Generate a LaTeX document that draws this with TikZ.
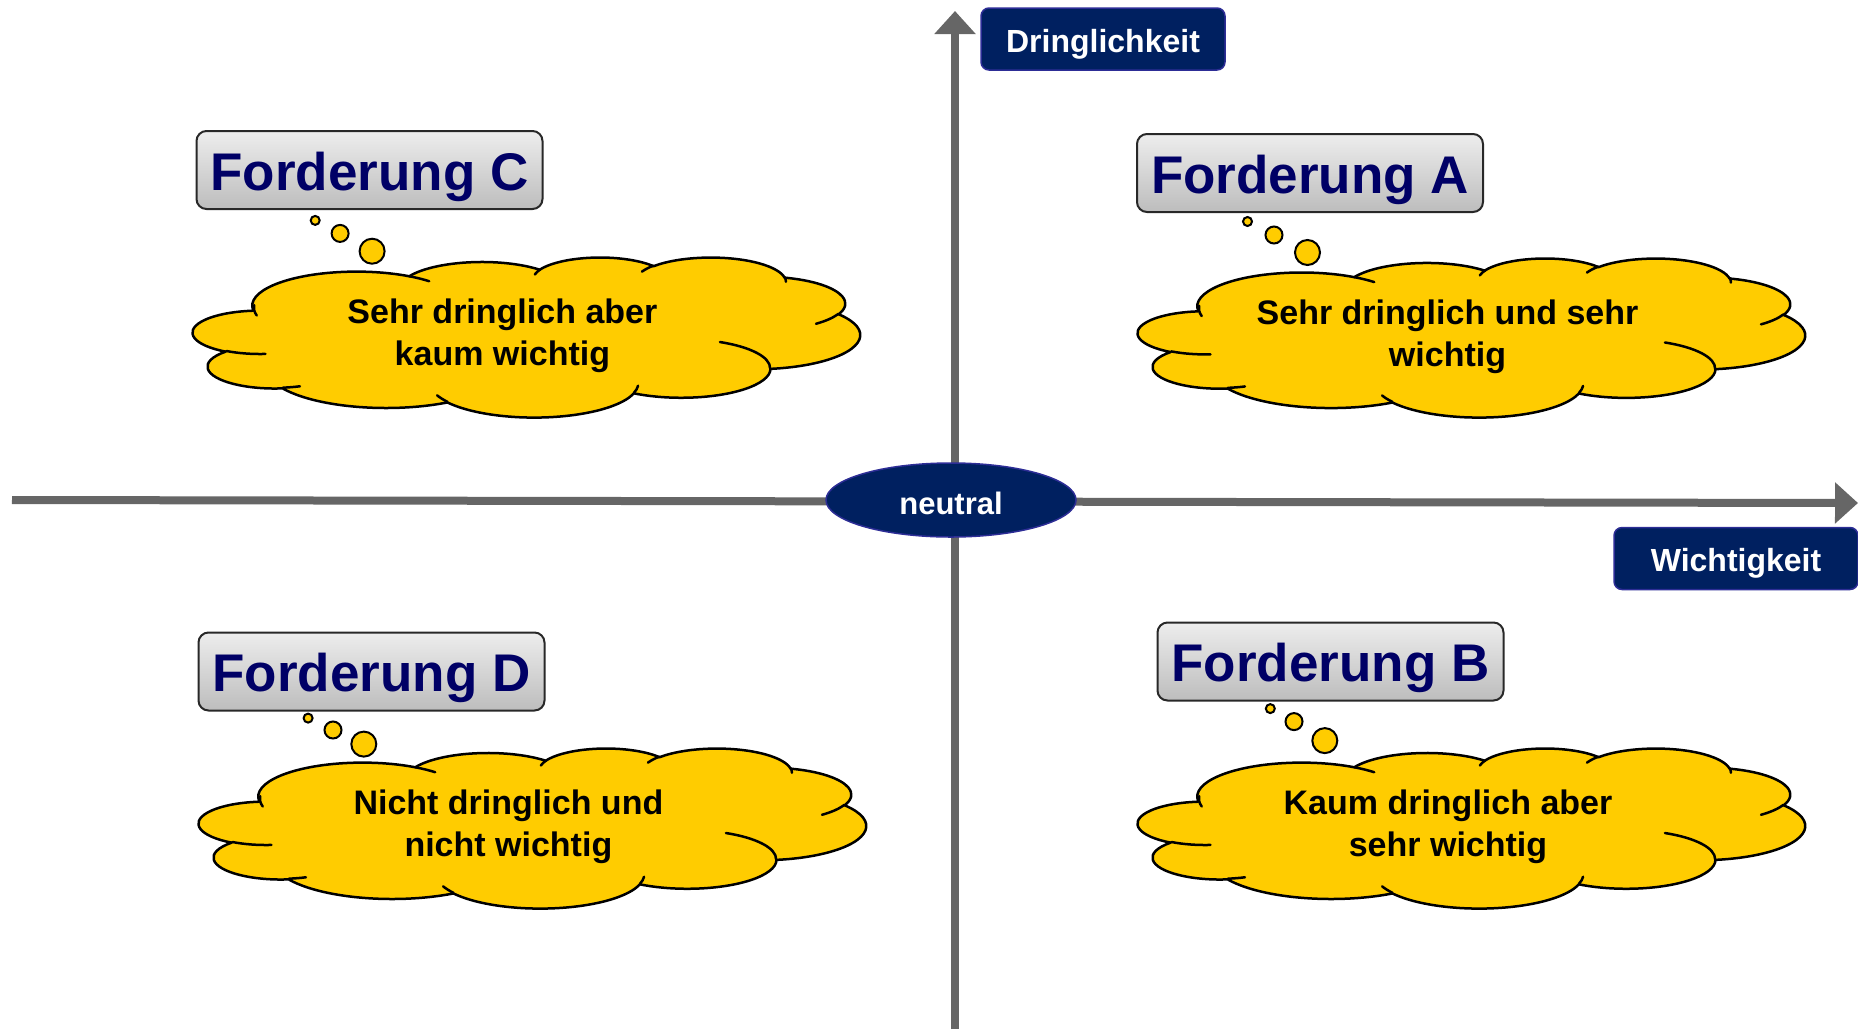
\documentclass[tikz,border=0pt]{standalone}
\usepackage{fontspec}
\setmainfont{Liberation Sans}
\usetikzlibrary{arrows.meta,shapes.geometric}
\definecolor{navy}{RGB}{0,32,96}
\definecolor{navyedge}{RGB}{45,45,150}
\definecolor{ftext}{RGB}{0,0,102}
\definecolor{axisgray}{RGB}{102,102,102}
\definecolor{cloudfill}{RGB}{255,204,0}
\definecolor{boxedge}{RGB}{40,40,40}
\pgfmathdeclarefunction{vang}{3}{\pgfmathparse{atan2(#1*sin(#3),#2*cos(#3))}}
\pgfmathdeclarefunction{vdel}{4}{\pgfmathparse{mod(vang(#1,#2,#3+#4)-vang(#1,#2,#3)+720,360)}}
\tikzset{
  oa/.style args={#1/#2/#3/#4}{start angle={vang(#1,#2,#3)}, delta angle={vdel(#1,#2,#3,#4)}, x radius=#1, y radius=#2},
  cloudline/.style={draw=black, line width=2.5pt, line join=round, line cap=round},
  bubble/.style={draw=black, line width=2pt, fill=cloudfill},
  axis/.style={draw=axisgray, line width=8pt, -{Triangle[length=23pt,width=40pt]}},
  fbox/.style={rectangle, rounded corners=10pt, draw=boxedge, line width=2pt,
    top color=white!93!black, bottom color=white!74!black,
    minimum width=346pt, minimum height=78pt, inner sep=0pt,
    text=ftext, font=\bfseries\fontsize{53}{60}\selectfont, text height=40pt, text depth=0pt},
  lbl/.style={rectangle, rounded corners=8pt, fill=navy, draw=navyedge, line width=1.5pt,
    text=white, font=\bfseries\fontsize{32}{38}\selectfont, minimum width=244pt, minimum height=62pt,
    inner sep=0pt, text depth=0pt},
  neut/.style={ellipse, fill=navy, draw=navyedge, line width=1.5pt, text=white,
    font=\bfseries\fontsize{31}{36}\selectfont, minimum width=250pt, minimum height=74pt,
    inner sep=0pt, text height=28pt, text depth=0pt},
  ctext/.style={font=\bfseries\fontsize{34}{42}\selectfont, align=center, inner sep=0pt, text=black}
}
\newcommand\cloudat[4]{%
  \pgfmathsetmacro\cwx{#3/432}%
  \pgfmathsetmacro\chy{#4/432}%
  \begin{scope}[shift={(#1,#2)}, x=\cwx pt, y=-\chy pt]
    \draw[cloudline, fill=cloudfill] (39.00,143.70)
      arc[oa=67.53/91.90/-190.4875/123.7805]
      arc[oa=53.33/72.67/-144.1024/89.9452]
      arc[oa=43.65/59.45/-145.8079/99.7230]
      arc[oa=48.57/65.95/-130.9861/117.2417]
      arc[oa=53.33/72.73/-78.7089/109.0269]
      arc[oa=67.75/92.20/-46.2673/130.2690]
      arc[oa=57.85/78.67/0.6250/114.0333]
      arc[oa=67.52/92.15/22.4516/115.1726]
      arc[oa=77.20/105.43/66.2426/75.7110]
      arc[oa=43.60/59.18/-274.9421/146.7356]
      arc[oa=43.45/59.45/-246.8285/152.5189]
      -- cycle;
    \draw[cloudline]
      (46.93,261.77) arc[oa=43.45/59.45/86.7420/26.4295]
      (69.28,348.99) arc[oa=43.60/59.18/73.6105/11.4475]
      (164.78,390.90) arc[oa=67.52/92.15/137.6242/14.0811]
      (288.27,347.51) arc[oa=67.52/92.15/6.4533/15.9984]
      (341.29,229.54) arc[oa=57.85/78.67/-70.2924/70.9174]
      (417.98,153.54) arc[oa=53.33/72.73/30.3180/27.7515]
      (383.24,54.26) arc[oa=48.57/65.95/-13.7443/14.8589]
      (290.78,39.52) arc[oa=48.57/65.95/-149.1815/18.1954]
      (221.41,47.20) arc[oa=43.65/59.45/-163.4943/17.6864]
      (140.00,51.92) arc[oa=67.53/91.90/-66.7070/12.3194]
      (41.27,157.89) arc[oa=67.53/91.90/162.0359/23.6928];
  \end{scope}}
\begin{document}
\begin{tikzpicture}[x=1pt, y=-1pt]
\useasboundingbox (0,0) rectangle (1858,1029);
% axes
\coordinate (vb) at (955,1029);
\coordinate (vt) at (955,11);
\coordinate (hl) at (12,500);
\coordinate (hr) at (1858,503);
\draw[axis] (vb) -- (vt);
\draw[axis] (hl) -- (hr);
\node[neut] (neutral) at (951,500) {neutral};
\node[lbl, text height=26pt] (dring) at (1103,39) {Dringlichkeit};
\node[lbl, text height=25pt] (wicht) at (1736,558.5) {Wichtigkeit};
% clouds
\cloudat{193}{257}{667}{160}
\cloudat{1138}{258}{667}{159}
\cloudat{199}{748}{667}{160}
\cloudat{1138}{748}{667}{160}
% bubbles
\draw[bubble] (315.2,220.4) circle[radius=4.5];
\draw[bubble] (340.1,233.4) circle[radius=8.5];
\draw[bubble] (372.1,251.2) circle[radius=12.5];
\draw[bubble] (1247.5,221.5) circle[radius=4.5];
\draw[bubble] (1274,235) circle[radius=8.5];
\draw[bubble] (1307.5,252.5) circle[radius=12.5];
\draw[bubble] (308.1,718.1) circle[radius=4.5];
\draw[bubble] (333,730) circle[radius=8.5];
\draw[bubble] (363.8,744.1) circle[radius=12.5];
\draw[bubble] (1270.3,708.6) circle[radius=4.5];
\draw[bubble] (1294,721.6) circle[radius=8.5];
\draw[bubble] (1324.8,740.6) circle[radius=12.5];
% boxes
\node[fbox] (fC) at (369.5,170) {Forderung C};
\node[fbox] (fA) at (1310,173) {Forderung A};
\node[fbox] (fD) at (371.5,671.5) {Forderung D};
\node[fbox] (fB) at (1330.5,661.5) {Forderung B};
% cloud texts
\node[ctext] (tC) at (502.4,336.2) {Sehr dringlich aber\\kaum wichtig};
\node[ctext] (tA) at (1447.5,337.2) {Sehr dringlich und sehr\\wichtig};
\node[ctext] (tD) at (508.4,827.2) {Nicht dringlich und\\nicht wichtig};
\node[ctext] (tB) at (1448,827.2) {Kaum dringlich aber\\sehr wichtig};
\end{tikzpicture}
\end{document}
